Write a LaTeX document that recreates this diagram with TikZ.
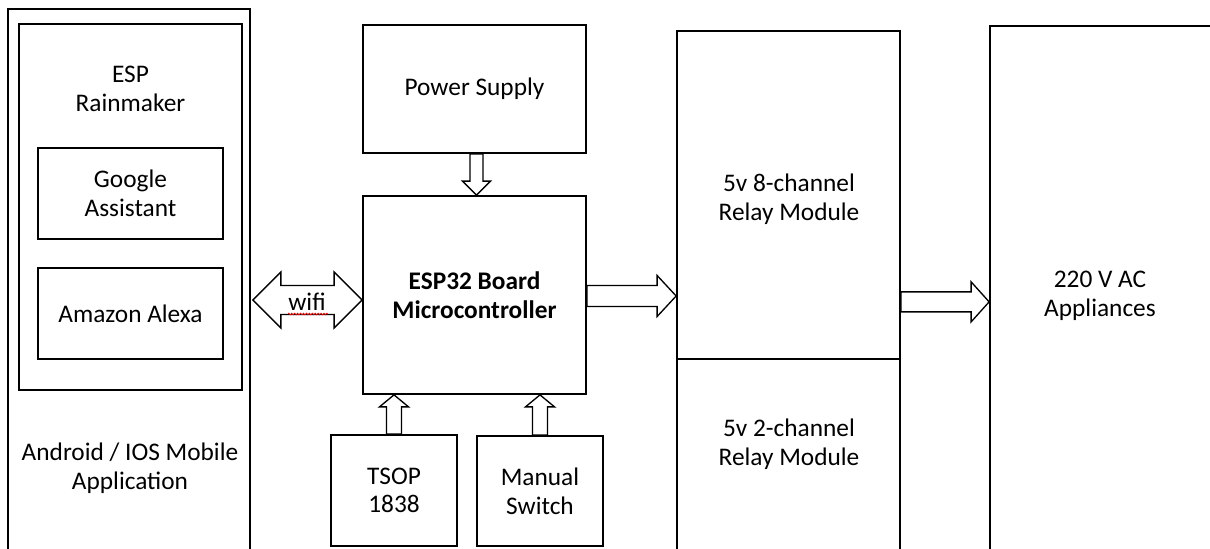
\documentclass[tikz,border=0pt]{standalone}
\usepackage{fontspec}
\setmainfont{Carlito}
\usetikzlibrary{calc,decorations.pathmorphing}
\tikzset{
  box/.style={draw, line width=1.3pt, inner sep=0pt, align=center, font=\txt},
  lbl/.style={inner sep=0pt, align=center, font=\txt},
  barrow/.style={draw, fill=white, line width=1pt, line join=miter},
}
\newcommand{\txt}{\fontsize{19}{21.5}\selectfont}
% horizontal block arrow to the right: #1 start, #2 tip, #3 shaft half, #4 head half, #5 head length (px)
\newcommand{\hbarrow}[5]{%
  \draw[barrow] let \p1=(#1), \p2=(#2) in
   (\x1,{\y2+#3*0.75pt}) -- ({\x2-#5*0.75pt},{\y2+#3*0.75pt}) -- ({\x2-#5*0.75pt},{\y2+#4*0.75pt})
   -- (\x2,\y2) -- ({\x2-#5*0.75pt},{\y2-#4*0.75pt}) -- ({\x2-#5*0.75pt},{\y2-#3*0.75pt})
   -- (\x1,{\y2-#3*0.75pt}) -- cycle;}
% vertical block arrow: #6 = 1 for a downward arrow, -1 for an upward one
\newcommand{\vbarrow}[6]{%
  \draw[barrow] let \p1=(#1), \p2=(#2) in
   ({\x1+#3*0.75pt},\y1) -- ({\x1+#3*0.75pt},{\y2+#6*#5*0.75pt}) -- ({\x1+#4*0.75pt},{\y2+#6*#5*0.75pt})
   -- (\x1,\y2) -- ({\x1-#4*0.75pt},{\y2+#6*#5*0.75pt}) -- ({\x1-#3*0.75pt},{\y2+#6*#5*0.75pt})
   -- ({\x1-#3*0.75pt},\y1) -- cycle;}
% double horizontal block arrow
\newcommand{\dbarrow}[5]{%
  \draw[barrow] let \p1=(#1), \p2=(#2) in
   (\x1,\y1) -- ({\x1+#5*0.75pt},{\y1+#4*0.75pt}) -- ({\x1+#5*0.75pt},{\y1+#3*0.75pt})
   -- ({\x2-#5*0.75pt},{\y1+#3*0.75pt}) -- ({\x2-#5*0.75pt},{\y1+#4*0.75pt}) -- (\x2,\y1)
   -- ({\x2-#5*0.75pt},{\y1-#4*0.75pt}) -- ({\x2-#5*0.75pt},{\y1-#3*0.75pt})
   -- ({\x1+#5*0.75pt},{\y1-#3*0.75pt}) -- ({\x1+#5*0.75pt},{\y1-#4*0.75pt}) -- cycle;}
\begin{document}
\begin{tikzpicture}[x=0.75pt,y=-0.75pt]
\useasboundingbox (0,0) rectangle (1210,549);
\clip (0,0) rectangle (1210,549);
\fill[white] (0,0) rectangle (1210,549);

% left column
\node[box, minimum width=242*0.75pt, minimum height=591*0.75pt] (app) at (129,304.5) {};
\node[box, minimum width=223*0.75pt, minimum height=366*0.75pt] (rain) at (130.5,207) {};
\node[lbl] (rainl) at (130.5,89) {ESP\\Rainmaker};
\node[box, minimum width=185*0.75pt, minimum height=91*0.75pt] (google) at (130.5,193.5) {Google\\Assistant};
\node[box, minimum width=185*0.75pt, minimum height=91*0.75pt] (alexa) at (130.5,313.5) {Amazon Alexa};
\node[lbl] (appl) at (130,468) {Android / IOS Mobile\\Application};

% centre column
\node[box, minimum width=223*0.75pt, minimum height=128*0.75pt] (ps) at (474.5,89) {\raisebox{-2pt}{Power Supply}};
\node[box, minimum width=223*0.75pt, minimum height=198*0.75pt] (esp) at (474.5,295) {\bfseries ESP32 Board\\\bfseries Microcontroller};
\node[box, minimum width=126*0.75pt, minimum height=111*0.75pt] (tsop) at (394,490.5) {TSOP\\1838};
\node[box, minimum width=126*0.75pt, minimum height=110*0.75pt] (manual) at (540,491) {Manual\\Switch};

% relays
\node[box, minimum width=223*0.75pt, minimum height=328*0.75pt] (relay8) at (788.5,195) {};
\node[lbl] (relay8l) at (789,199) {5v 8-channel\\Relay Module};
\node[box, minimum width=223*0.75pt, minimum height=241*0.75pt] (relay2) at (788.5,479.5) {};
\node[lbl] (relay2l) at (789,444) {5v 2-channel\\Relay Module};

% appliances
\node[box, minimum width=240*0.75pt, minimum height=574*0.75pt] (appl2) at (1110,313) {};
\node[lbl] (appl2l) at (1100,296) {220 V AC\\Appliances};

% arrows
\coordinate (pss) at ($(ps.south)+(2,0)$);
\vbarrow{pss}{pss |- esp.north}{6.5}{14}{14}{1}
\vbarrow{tsop.north}{tsop.north |- esp.south}{7.5}{14.5}{12}{-1}
\vbarrow{manual.north}{manual.north |- esp.south}{7.5}{14.5}{12}{-1}
\coordinate (ee) at ($(esp.east)+(0,1)$);
\hbarrow{ee}{ee -| relay8.west}{10.5}{20.5}{19}
\coordinate (re) at ($(relay8.south east)+(0,-58)$);
\hbarrow{re}{re -| appl2.west}{10}{20}{18}
\coordinate (wl) at ($(esp.west)+(0,5)$);
\coordinate (wr) at ($(wl -| app.east)+(2,0)$);
\dbarrow{wr}{wl}{14.5}{28}{28}
\node[lbl] (wifi) at (307,302) {wifi};
\draw[red, line width=0.5pt, decorate, decoration={zigzag, segment length=2.2pt, amplitude=0.7pt}]
  ($(wifi.south west)+(0,3)$) -- ($(wifi.south east)+(2,3)$);
\end{tikzpicture}
\end{document}
